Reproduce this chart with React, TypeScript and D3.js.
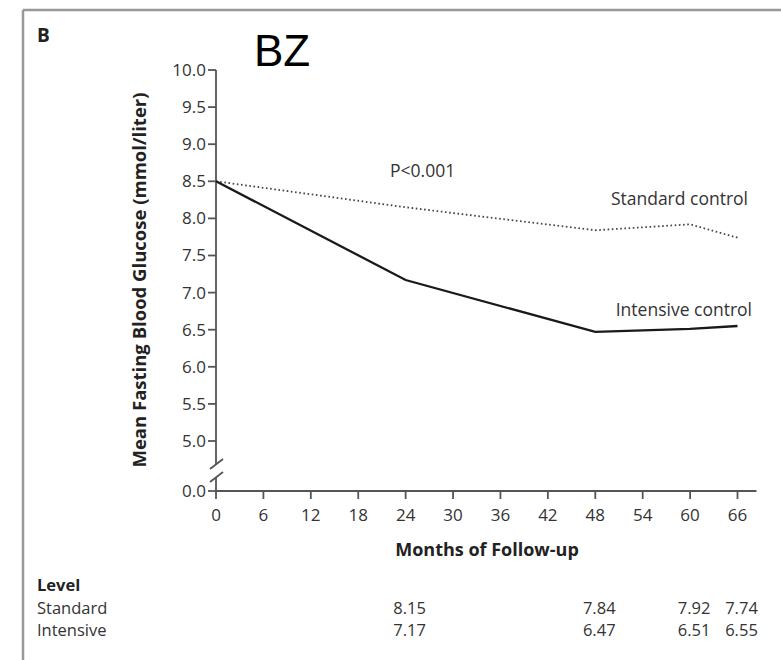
import React from "react";
import * as d3 from "d3";

// months of follow-up and mean fasting glucose (mmol/liter)
const months = [0, 24, 48, 60, 66];
const standardValues = [8.5, 8.15, 7.84, 7.92, 7.74];
const intensiveValues = [8.5, 7.17, 6.47, 6.51, 6.55];
const xTicks = [0, 6, 12, 18, 24, 30, 36, 42, 48, 54, 60, 66];
const yTicks = [0, 5, 5.5, 6, 6.5, 7, 7.5, 8, 8.5, 9, 9.5, 10];
const tableMonths = [24, 48, 60, 66];
const tableStandard = ["8.15", "7.84", "7.92", "7.74"];
const tableIntensive = ["7.17", "6.47", "6.51", "6.55"];

const W = 781;
const H = 660;
const FONT = "'Open Sans', sans-serif";
const TXT = "#333";
const AX = "#555";

function App() {
  // broken y axis: 0 is squeezed under 5.0
  const x = d3.scaleLinear().domain([0, 66]).range([216, 737.5]);
  const y = d3.scaleLinear().domain([0, 5, 10]).range([491, 441, 70]);

  const line = d3
    .line<number>()
    .x((d, i) => x(months[i]))
    .y((d) => y(d));

  const x0 = x(0);
  const xEnd = x(68.4);

  return (
    <div style={{ position: "absolute", left: 0, top: 0 }}>
      <svg width={W} height={H} style={{ display: "block", background: "#fff" }}>
        {/* frame */}
        <line x1={23} x2={W} y1={10} y2={10} stroke="#999" strokeWidth={2.5} />
        <line x1={23} x2={23} y1={10} y2={H} stroke="#999" strokeWidth={2.5} />

        <text x={37} y={42} fontFamily={FONT} fontWeight="bold" fontSize={19} fill="#222">
          B
        </text>
        <text x={254} y={66} fontFamily="'Liberation Sans', Arial, sans-serif" fontSize={44} fill="#000">
          BZ
        </text>

        {/* y axis */}
        <g stroke={AX} strokeWidth={1.8} fill="none">
          <line x1={x0} x2={x0} y1={y(10)} y2={465} />
          <line x1={x0} x2={x0} y1={477} y2={y(0)} />
          <line x1={x0 - 6} x2={x0 + 7} y1={469} y2={459} />
          <line x1={x0 - 6} x2={x0 + 7} y1={482} y2={472} />
        </g>
        {yTicks.map((t) => (
          <g key={t} transform={`translate(${x0},${y(t)})`}>
            <line x1={-8} x2={0} stroke={AX} strokeWidth={1.8} />
            <text
              x={-10}
              dy="0.35em"
              textAnchor="end"
              fontFamily={FONT}
              fontSize={17}
              fill={TXT}
            >
              {t.toFixed(1)}
            </text>
          </g>
        ))}

        {/* x axis */}
        <line x1={x0} x2={xEnd} y1={y(0)} y2={y(0)} stroke={AX} strokeWidth={1.8} />
        {xTicks.map((t) => (
          <g key={t} transform={`translate(${x(t)},${y(0)})`}>
            <line y1={0} y2={8} stroke={AX} strokeWidth={1.8} />
            <text y={30} textAnchor="middle" fontFamily={FONT} fontSize={17} fill={TXT}>
              {t}
            </text>
          </g>
        ))}

        {/* axis titles */}
        <text
          x={487}
          y={556}
          textAnchor="middle"
          fontFamily={FONT}
          fontWeight="bold"
          fontSize={18}
          fill="#222"
        >
          Months of Follow-up
        </text>
        <text
          transform={`translate(146,${280}) rotate(-90)`}
          textAnchor="middle"
          fontFamily={FONT}
          fontWeight="bold"
          fontSize={18.5}
          fill="#222"
        >
          Mean Fasting Blood Glucose (mmol/liter)
        </text>

        {/* series */}
        <path
          d={line(standardValues) || ""}
          fill="none"
          stroke="#444"
          strokeWidth={1.8}
          strokeDasharray="1.6,2.6"
        />
        <path d={line(intensiveValues) || ""} fill="none" stroke="#1a1a1a" strokeWidth={2.3} />

        {/* annotations */}
        <text x={390} y={177} fontFamily={FONT} fontSize={17.5} fill={TXT}>
          P&lt;0.001
        </text>
        <text x={748} y={205} textAnchor="end" fontFamily={FONT} fontSize={17.5} fill={TXT}>
          Standard control
        </text>
        <text x={752} y={316} textAnchor="end" fontFamily={FONT} fontSize={17.5} fill={TXT}>
          Intensive control
        </text>

        {/* table */}
        <text x={37} y={591} fontFamily={FONT} fontWeight="bold" fontSize={16.5} fill="#222">
          Level
        </text>
        <text x={37} y={614} fontFamily={FONT} fontSize={16.5} fill={TXT}>
          Standard
        </text>
        <text x={37} y={636} fontFamily={FONT} fontSize={16.5} fill={TXT}>
          Intensive
        </text>
        {tableMonths.map((m, i) => (
          <g key={m}>
            <text x={x(m) + 4} y={614} textAnchor="middle" fontFamily={FONT} fontSize={16.5} fill={TXT}>
              {tableStandard[i]}
            </text>
            <text x={x(m) + 4} y={636} textAnchor="middle" fontFamily={FONT} fontSize={16.5} fill={TXT}>
              {tableIntensive[i]}
            </text>
          </g>
        ))}
      </svg>
    </div>
  );
}

export default App;
